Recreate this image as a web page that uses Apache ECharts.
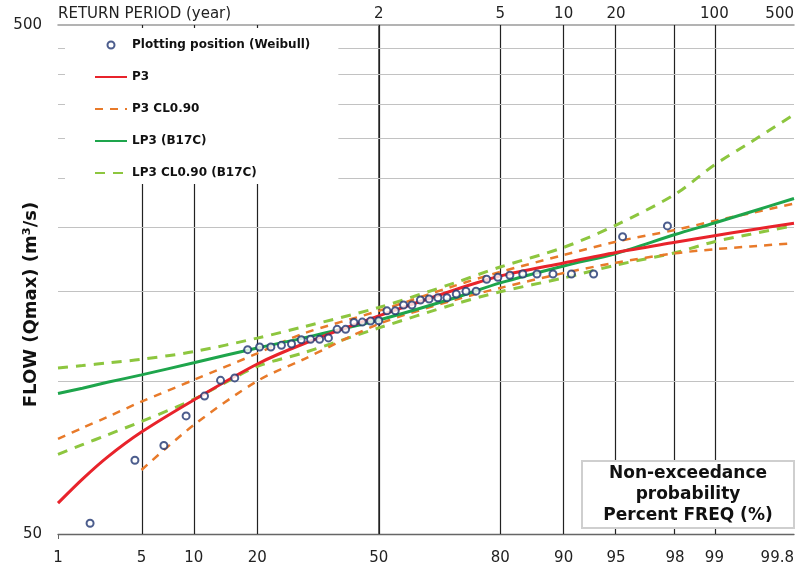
<!DOCTYPE html>
<html>
<head>
<meta charset="utf-8">
<script src="https://cdn.jsdelivr.net/npm/echarts@6/dist/echarts.min.js"></script>
<style>
html,body{margin:0;padding:0;background:#fff;}
#chart{width:796px;height:571px;}
</style>
</head>
<body>
<div id="chart"></div>
<script>
// ---------------- data ----------------
// probability-axis tick labels (non-exceedance %, bottom) and return periods (years, top)
const probTickLabels = [1, 5, 10, 20, 50, 80, 90, 95, 98, 99, 99.8];
const returnPeriodLabels = [2, 5, 10, 20, 100, 500];
const verticalLineProbs = [5, 10, 20, 50, 80, 90, 95, 98, 99];
const flowGridValues = [100, 150, 200, 250, 300, 350, 400, 450];
const flowTickLabels = [50, 500];
const xAxisMinProb = 1.31;   // left edge of the probability axis (labelled "1")
const xAxisMaxProb = 99.8;

// observed annual maxima with Weibull plotting positions (%)
const obsProb = [2.27, 4.55, 6.82, 9.09, 11.36, 13.64, 15.91, 18.18, 20.45, 22.73,
  25.00, 27.27, 29.55, 31.82, 34.09, 36.36, 38.64, 40.91, 43.18, 45.45,
  47.73, 50.00, 52.27, 54.55, 56.82, 59.09, 61.36, 63.64, 65.91, 68.18,
  70.45, 72.73, 75.00, 77.27, 79.55, 81.82, 84.09, 86.36, 88.64, 90.91,
  93.18, 95.45, 97.73];
const obsFlow = [52.5, 69.8, 74.6, 85.3, 93.3, 100.2, 101.3, 115.1, 116.5, 116.5,
  117.4, 118.1, 120.4, 120.6, 120.6, 121.4, 126.2, 126.2, 130.2, 130.4,
  131.0, 131.2, 137.2, 137.2, 140.9, 140.9, 144.1, 144.8, 145.6, 145.6,
  148.0, 149.9, 150.0, 158.3, 159.7, 161.2, 162.1, 162.1, 162.1, 162.1,
  162.1, 191.9, 201.5];

// fitted curves (flow at each probability %)
const curveProb    = [1.31, 2, 3, 5, 10, 20, 30, 50, 70, 80, 90, 95, 98, 99, 99.5, 99.8];
const p3Flow       = [57.5, 64.1, 70.8, 79.3, 91.7, 107.9, 118.1, 134.1, 150.8, 160.6, 170.4, 178.7, 187.1, 192.8, 197.8, 203.9];
const p3UpperFlow  = [76.9, 80.8, 84.9, 91.0, 100.4, 113.2, 123.8, 137.2, 153.6, 163.6, 176.6, 187.6, 197.8, 206.1, 213.4, 223.0];
const p3LowerProb  = [5, 10, 20, 30, 50, 70, 80, 90, 95, 98, 99, 99.5, 99.8];
const p3LowerFlow  = [66.8, 81.9, 99.9, 110.1, 129.3, 144.1, 152.2, 162.8, 170.6, 178.0, 181.3, 183.6, 186.3];
const lp3Flow      = [94.4, 96.7, 99.3, 102.7, 108.5, 116.0, 121.3, 131.6, 145.4, 155.7, 168.1, 177.9, 193.8, 204.2, 214.6, 228.1];
const lp3UpperFlow = [105.9, 107.1, 108.4, 110.2, 114.1, 121.3, 127.6, 139.3, 155.7, 167.3, 182.8, 202.3, 232.5, 265.5, 294.0, 333.6];
const lp3LowerFlow = [71.7, 74.9, 78.3, 83.2, 92.0, 106.7, 113.4, 127.0, 141.4, 149.6, 159.2, 168.8, 178.5, 187.6, 194.0, 201.9];

// ---------------- normal-probability scale transform ----------------
function qnorm(p) {
  const a = [-3.969683028665376e+01, 2.209460984245205e+02, -2.759285104469687e+02, 1.383577518672690e+02, -3.066479806614716e+01, 2.506628277459239e+00];
  const b = [-5.447609879822406e+01, 1.615858368580409e+02, -1.556989798598866e+02, 6.680131188771972e+01, -1.328068155288572e+01];
  const c = [-7.784894002430293e-03, -3.223964580411365e-01, -2.400758277161838e+00, -2.549732539343734e+00, 4.374664141464968e+00, 2.938163982698783e+00];
  const d = [7.784695709041462e-03, 3.224671290700398e-01, 2.445134137142996e+00, 3.754408661907416e+00];
  const pl = 0.02425, ph = 1 - pl;
  let q, r;
  if (p < pl) {
    q = Math.sqrt(-2 * Math.log(p));
    return (((((c[0]*q+c[1])*q+c[2])*q+c[3])*q+c[4])*q+c[5]) / ((((d[0]*q+d[1])*q+d[2])*q+d[3])*q+1);
  }
  if (p <= ph) {
    q = p - 0.5; r = q * q;
    return (((((a[0]*r+a[1])*r+a[2])*r+a[3])*r+a[4])*r+a[5])*q / (((((b[0]*r+b[1])*r+b[2])*r+b[3])*r+b[4])*r+1);
  }
  q = Math.sqrt(-2 * Math.log(1 - p));
  return -(((((c[0]*q+c[1])*q+c[2])*q+c[3])*q+c[4])*q+c[5]) / ((((d[0]*q+d[1])*q+d[2])*q+d[3])*q+1);
}
const zMin = qnorm(xAxisMinProb / 100);
const zMax = qnorm(xAxisMaxProb / 100);
const zOf = p => Math.min(zMax, Math.max(zMin, qnorm(p / 100)));
const zOfT = T => zOf(100 * (1 - 1 / T));
const pts = (probs, flows) => probs.map((p, i) => [zOf(p), flows[i]]);

const probTickZ = probTickLabels.map(zOf);
const rpTickZ = returnPeriodLabels.map(zOfT);
const nearestLabel = (zs, labels) => v => {
  let best = 0, bd = Infinity;
  zs.forEach((z, i) => { const dd = Math.abs(z - v); if (dd < bd) { bd = dd; best = i; } });
  return bd < 1e-6 ? String(labels[best]) : '';
};

// ---------------- styles ----------------
const FONT = 'DejaVu Sans';
const C_OBS = '#1f3470', C_P3 = '#e8232b', C_P3CL = '#e87a2a', C_LP3 = '#1ea54c', C_LP3CL = '#8dc63f';
const axisText = { fontFamily: FONT, fontSize: 15, color: '#222' };
const hideDot = { opacity: 0 };

const chart = echarts.init(document.getElementById('chart'), null, { renderer: 'canvas' });
chart.setOption({
  animation: false,
  backgroundColor: '#fff',
  textStyle: { fontFamily: FONT },
  grid: { left: 58, right: 2, top: 25, bottom: 37, containLabel: false, outerBoundsMode: 'none' },
  title: {
    text: 'Non-exceedance\nprobability\nPercent FREQ (%)',
    left: 666, top: 461, textAlign: 'center',
    padding: [2, 22, 2, 22],
    backgroundColor: '#fff', borderColor: '#cfcfcf', borderWidth: 2,
    textStyle: { fontFamily: FONT, fontWeight: 'bold', fontSize: 17, lineHeight: 21, color: '#111' },
    z: 8
  },
  legend: {
    data: [
      { name: 'Plotting position (Weibull)' },
      { name: 'P3', itemStyle: hideDot },
      { name: 'P3 CL0.90', itemStyle: hideDot },
      { name: 'LP3 (B17C)', itemStyle: hideDot },
      { name: 'LP3 CL0.90 (B17C)', itemStyle: hideDot }
    ],
    orient: 'vertical', left: 65, top: 28,
    padding: [11, 28, 5, 29],
    itemGap: 20, itemWidth: 32, itemHeight: 7,
    backgroundColor: '#fff',
    textStyle: { fontFamily: FONT, fontWeight: 'bold', fontSize: 12, color: '#111' },
    selectedMode: false,
    z: 10
  },
  xAxis: [
    {
      type: 'value', position: 'bottom', min: zMin, max: zMax,
      axisLine: { show: true, lineStyle: { color: '#666', width: 1.3 } },
      axisTick: { show: true, customValues: [zMin], length: 5, lineStyle: { color: '#666' } },
      splitLine: { show: false },
      axisLabel: { customValues: probTickZ, formatter: nearestLabel(probTickZ, probTickLabels), margin: 17, alignMaxLabel: 'right', ...axisText }
    },
    {
      type: 'value', position: 'top', min: zMin, max: zMax,
      name: 'RETURN PERIOD (year)', nameLocation: 'start', nameGap: 0,
      nameTextStyle: { align: 'left', verticalAlign: 'bottom', padding: [0, 0, 3, 0], ...axisText },
      axisLine: { show: true, lineStyle: { color: '#9a9a9a', width: 1.5 } },
      axisTick: { show: false },
      splitLine: { show: false },
      axisLabel: { customValues: rpTickZ, formatter: nearestLabel(rpTickZ, returnPeriodLabels), margin: 3, alignMaxLabel: 'right', ...axisText }
    }
  ],
  yAxis: {
    type: 'log', logBase: 10, min: 50, max: 500,
    name: 'FLOW (Qmax) (m³/s)', nameLocation: 'middle', nameRotate: 90, nameGap: 18,
    nameMoveOverlap: false,
    nameTextStyle: { fontFamily: FONT, fontWeight: 'bold', fontSize: 18, color: '#111', padding: [0, 50, 0, 0] },
    axisLine: { show: true, lineStyle: { color: '#333', width: 1.5 } },
    axisTick: { show: false },
    splitLine: { show: false },
    minorTick: { show: false },
    axisLabel: {
      margin: 16, ...axisText,
      formatter: v => flowTickLabels.includes(Math.round(v)) ? String(Math.round(v)) : ''
    }
  },
  series: [
    {
      name: 'grid', type: 'line', data: [], z: 1, silent: true,
      markLine: {
        silent: true, symbol: 'none', animation: false, z: 1, label: { show: false },
        data: [
          ...verticalLineProbs.map(p => ({ xAxis: zOf(p), lineStyle: { color: '#222', width: 1.2, type: 'solid' } })),
          ...flowGridValues.map(v => ({ yAxis: v, lineStyle: { color: '#c2c2c2', width: 1.2, type: 'solid' } }))
        ]
      }
    },
    {
      name: 'LP3 CL0.90 (B17C)', type: 'line', data: pts(curveProb, lp3UpperFlow), smooth: 0.3, symbol: 'none', z: 2,
      lineStyle: { color: C_LP3CL, width: 3, type: [10, 8] }, itemStyle: { color: C_LP3CL }
    },
    {
      name: 'LP3 CL0.90 (B17C)', type: 'line', data: pts(curveProb, lp3LowerFlow), smooth: 0.3, symbol: 'none', z: 2,
      lineStyle: { color: C_LP3CL, width: 3, type: [10, 8] }, itemStyle: { color: C_LP3CL }
    },
    {
      name: 'P3 CL0.90', type: 'line', data: pts(curveProb, p3UpperFlow), smooth: 0.3, symbol: 'none', z: 2,
      lineStyle: { color: C_P3CL, width: 2.5, type: [8, 7] }, itemStyle: { color: C_P3CL }
    },
    {
      name: 'P3 CL0.90', type: 'line', data: pts(p3LowerProb, p3LowerFlow), smooth: 0.3, symbol: 'none', z: 2,
      lineStyle: { color: C_P3CL, width: 2.5, type: [8, 7] }, itemStyle: { color: C_P3CL }
    },
    {
      name: 'LP3 (B17C)', type: 'line', data: pts(curveProb, lp3Flow), smooth: 0.3, symbol: 'none', z: 3,
      lineStyle: { color: C_LP3, width: 3 }, itemStyle: { color: C_LP3 }
    },
    {
      name: 'P3', type: 'line', data: pts(curveProb, p3Flow), smooth: 0.3, symbol: 'none', z: 3,
      lineStyle: { color: C_P3, width: 3 }, itemStyle: { color: C_P3 }
    },
    {
      name: 'Plotting position (Weibull)', type: 'scatter', data: pts(obsProb, obsFlow), z: 4,
      symbol: 'emptyCircle', symbolSize: 7,
      itemStyle: { color: C_OBS, borderWidth: 1.8 }
    }
  ]
});
</script>
</body>
</html>
